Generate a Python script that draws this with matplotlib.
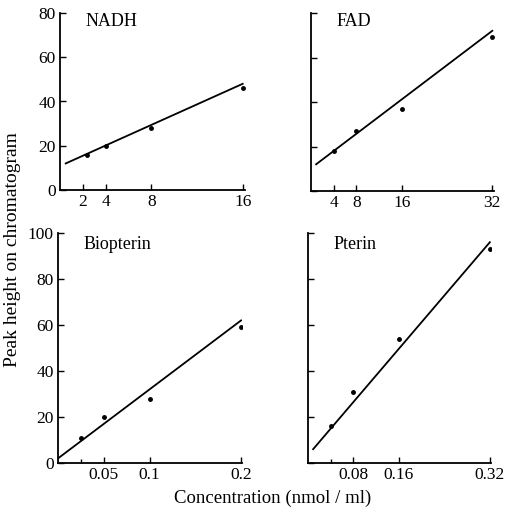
import matplotlib
matplotlib.use('Agg')
import matplotlib.pyplot as plt
import numpy as np

plt.rcParams['font.family'] = ['Liberation Serif', 'DejaVu Serif']

# data (concentration, peak height)
nadh_x = [2.4, 4, 8, 16]
nadh_y = [16, 20, 28, 46]
nadh_line_x = [0.5, 16]
nadh_line_y = [12, 48]

fad_x = [4, 8, 16, 32]
fad_y = [18, 27, 37, 69]
fad_line_x = [0.9, 32]
fad_line_y = [12, 72]

bio_x = [0.025, 0.05, 0.1, 0.2]
bio_y = [11, 20, 28, 59]
bio_line_x = [0, 0.2]
bio_line_y = [2, 62]

pte_x = [0.04, 0.08, 0.16, 0.32]
pte_y = [16, 31, 54, 93]
pte_line_x = [0.009, 0.32]
pte_line_y = [6, 96]

panels = [
    # name, x, y, line x, line y, xticks, xticklabels, minor, xmax, ymax, rect, show y labels
    ('NADH', nadh_x, nadh_y, nadh_line_x, nadh_line_y, [2, 4, 8, 16], ['2', '4', '8', '16'], [], 16.2, 80,
     [60, 13, 245, 190], True),
    ('FAD', fad_x, fad_y, fad_line_x, fad_line_y, [4, 8, 16, 32], ['4', '8', '16', '32'], [], 32.3, 80,
     [311, 13, 494, 191], False),
    ('Biopterin', bio_x, bio_y, bio_line_x, bio_line_y, [0.05, 0.1, 0.2], ['0.05', '0.1', '0.2'], [0.025], 0.201, 100,
     [58, 233, 242, 463], True),
    ('Pterin', pte_x, pte_y, pte_line_x, pte_line_y, [0.08, 0.16, 0.32], ['0.08', '0.16', '0.32'], [0.04], 0.322, 100,
     [308, 233, 491, 463], False),
]

W, H = 508, 518
fig = plt.figure(figsize=(W / 100, H / 100), dpi=100)

for name, x, y, lx, ly, xt, xtl, minor, xmax, ymax, (x0, y0, x1, y1), ylab in panels:
    ax = fig.add_axes([x0 / W, 1 - y1 / H, (x1 - x0) / W, (y1 - y0) / H])
    ax.plot(lx, ly, color='black', lw=1.3)
    ax.plot(x, y, 'o', color='black', ms=2.5)
    ax.set_xlim(0, xmax)
    ax.set_ylim(0, ymax)
    ax.spines['top'].set_visible(False)
    ax.spines['right'].set_visible(False)
    for s in ['left', 'bottom']:
        ax.spines[s].set_linewidth(1.3)
    ax.set_xticks(xt)
    ax.set_xticklabels(xtl)
    ax.set_xticks(minor, minor=True)
    ax.set_yticks(np.arange(0, ymax + 1, 20))
    if not ylab:
        ax.set_yticklabels([])
    ax.tick_params(direction='in', length=4, width=1, labelsize=12.5, pad=3)
    ax.tick_params(which='minor', direction='in', length=3, width=1)
    ax.text(0.14, 0.95, name, transform=ax.transAxes, fontsize=13, ha='left', va='center')

fig.text(13 / W, 1 - 250 / H, 'Peak height on chromatogram', rotation=90,
         ha='center', va='center', fontsize=14)
fig.text(273 / W, 1 - 498 / H, 'Concentration (nmol / ml)', ha='center', va='center', fontsize=13.5)

fig.savefig('out.png', dpi=100)
